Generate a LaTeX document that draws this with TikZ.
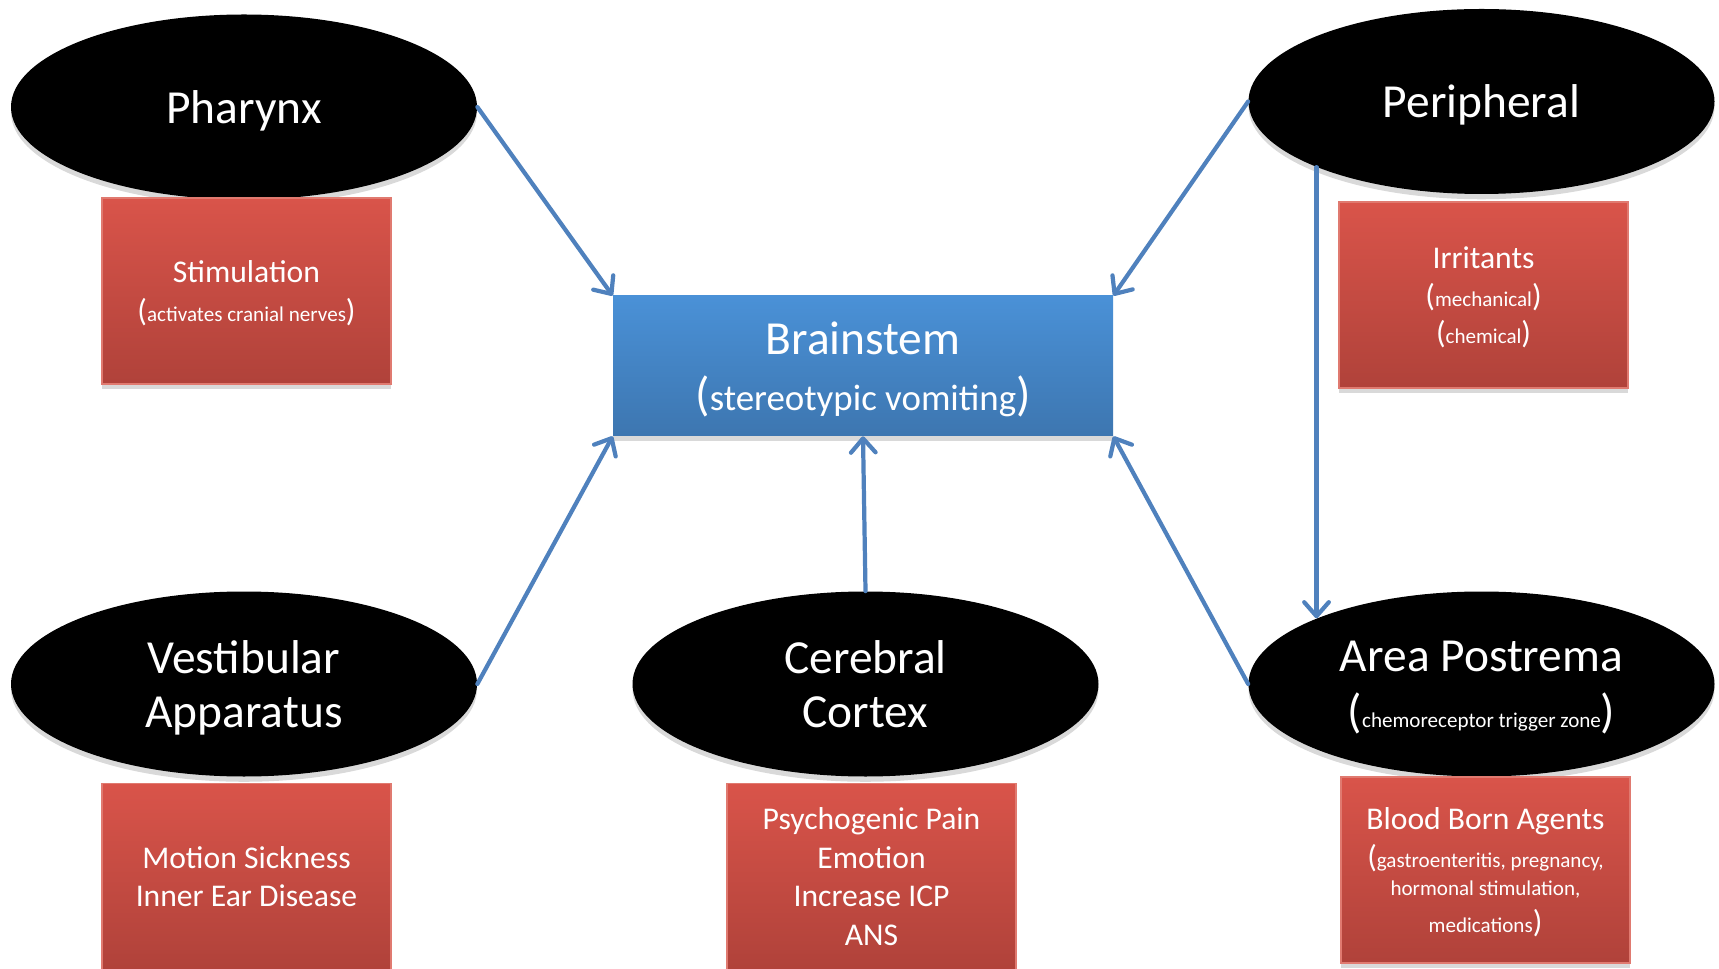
\documentclass[tikz,border=0pt]{standalone}
\usepackage{fontspec}
\setmainfont{Carlito}
\usetikzlibrary{arrows.meta,shadows,shapes.geometric}
\definecolor{arrblue}{RGB}{79,129,189}
\definecolor{redtop}{RGB}{217,84,74}
\definecolor{redbot}{RGB}{176,66,58}
\definecolor{redline}{RGB}{224,122,112}
\definecolor{bluetop}{RGB}{74,145,215}
\definecolor{bluebot}{RGB}{61,118,176}
\newcommand{\bigpar}[1]{{\fontsize{27}{30}\selectfont #1}}
\newcommand{\midpar}[1]{{\fontsize{18}{22}\selectfont #1}}
\newcommand{\smalltxt}[1]{{\fontsize{12}{14}\selectfont #1}}
\begin{document}
\begin{tikzpicture}[every node/.style={text=white,align=center,text depth=0pt},
  site/.style={ellipse,fill=black,inner sep=0pt,minimum width=9.32cm,minimum height=3.7cm,font=\fontsize{27}{31}\selectfont,drop shadow={opacity=0.3,shadow xshift=0pt,shadow yshift=-3pt}},
  cause/.style={rectangle,top color=redtop,bottom color=redbot,draw=redline,line width=0.6pt,minimum width=5.78cm,minimum height=3.72cm,font=\fontsize{18}{22}\selectfont,drop shadow={opacity=0.3,shadow xshift=0pt,shadow yshift=-3pt}},
  arr/.style={-{Straight Barb[round,length=8pt,width=14pt]},line width=2.4pt,arrblue,line cap=round}]
  \useasboundingbox (0,0) rectangle (34.38,-19.38);
  \node[rectangle,top color=bluetop,bottom color=bluebot,minimum width=10cm,minimum height=2.8cm,inner sep=0pt,font=\fontsize{27}{31}\selectfont,drop shadow={opacity=0.3,shadow xshift=0pt,shadow yshift=-3pt}] (brain) at (17.26,-7.32) {Brainstem\\[1pt] \bigpar{(}{\fontsize{21}{24}\selectfont stereotypic vomiting}\bigpar{)}};
  \node[site] (phar) at (4.88,-2.14) {Pharynx};
  \node[site] (peri) at (29.63,-2.03) {Peripheral};
  \node[site] (vest) at (4.88,-13.68) {Vestibular\\Apparatus};
  \node[site] (cer) at (17.31,-13.68) {Cerebral\\Cortex};
  \node[site] (ap) at (29.63,-13.68) {Area Postrema\\[1pt] \bigpar{(}\smalltxt{chemoreceptor trigger zone}\bigpar{)}};
  \node[cause] (stim) at (4.93,-5.82) {Stimulation\\ \midpar{(}\smalltxt{activates cranial nerves}\midpar{)}};
  \node[cause] (irr) at (29.67,-5.90) {Irritants\\ \midpar{(}\smalltxt{mechanical}\midpar{)}\\[-1pt] \midpar{(}\smalltxt{chemical}\midpar{)}};
  \node[cause] (motion) at (4.93,-17.53) {Motion Sickness\\Inner Ear Disease};
  \node[cause] (psy) at (17.43,-17.53) {Psychogenic Pain\\Emotion\\Increase ICP\\ANS};
  \node[cause] (blood) at (29.71,-17.40) {Blood Born Agents\\ \midpar{(}\smalltxt{gastroenteritis, pregnancy,}\\[-6pt] \smalltxt{hormonal stimulation,}\\[-1pt] \smalltxt{medications}\midpar{)}};
  \draw[arr] (phar.east) -- (brain.north west);
  \draw[arr] (peri.west) -- (brain.north east);
  \draw[arr] (peri.south west) -- (ap.north west);
  \draw[arr] (vest.east) -- (brain.south west);
  \draw[arr] (cer.north) -- (brain.south);
  \draw[arr] (ap.west) -- (brain.south east);
\end{tikzpicture}
\end{document}
